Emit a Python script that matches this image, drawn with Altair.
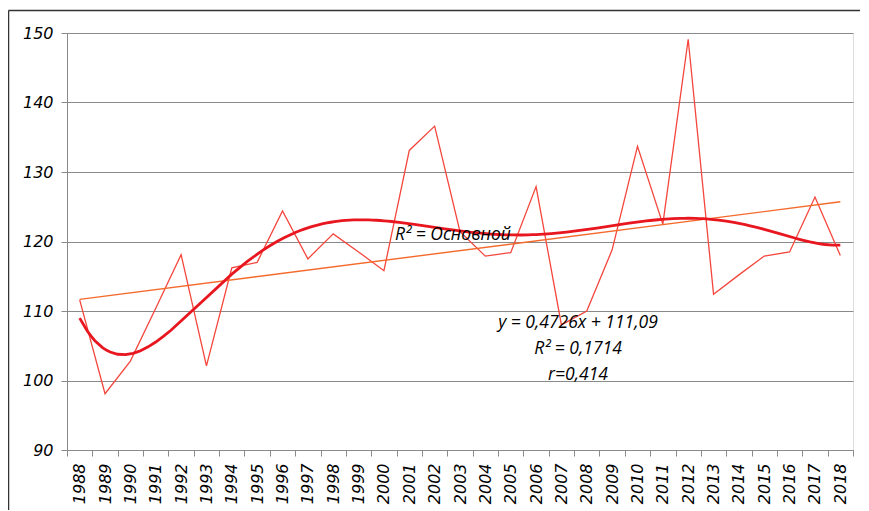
import altair as alt
import pandas as pd

years = list(range(1988, 2019))
values = [111.6, 98.1, 102.8, 110.4, 118.1, 102.1, 116.2, 117.0, 124.4, 117.5,
          121.1, 118.5, 115.8, 133.1, 136.6, 121.4, 117.9, 118.4, 127.9, 108.0,
          110.0, 118.8, 133.7, 122.5, 149.1, 112.4, 115.2, 117.9, 118.5, 126.4, 118.0]
y_ticks = [90, 100, 110, 120, 130, 140, 150]
eq_lines = ["y = 0,4726x + 111,09", "R² = 0,1714", "r=0,414"]
poly_label = "R² = Основной"

df = pd.DataFrame({"idx": list(range(1, len(years) + 1)), "year": years, "v": values})

n = len(years)
tick_vals = [k / 2 for k in range(1, 2 * n + 2)]  # 0.5 .. 31.5
offset = years[0] - 1

FONT = "DejaVu Sans"
ANN_FONT = "Open Sans"
GRID = "#8a8a8a"

x_enc = alt.X("idx:Q",
              scale=alt.Scale(domain=[0.5, n + 0.5], nice=False, zero=False),
              axis=alt.Axis(values=tick_vals, title=None, grid=False,
                            labelExpr=f"datum.value % 1 == 0 ? '' + (datum.value + {offset}) : ''",
                            labelAngle=-90, labelAlign="right", labelBaseline="middle",
                            labelFont=FONT, labelFontStyle="italic", labelFontSize=16,
                            labelColor="#000000", labelPadding=7,
                            tickSize=6, tickColor=GRID,
                            tickOpacity=alt.condition("datum.value % 1 == 0", alt.value(0), alt.value(1)),
                            domainColor=GRID, labelOverlap=False, labelFlush=False,
                            labelBound=False))
y_enc = alt.Y("v:Q",
              scale=alt.Scale(domain=[90, 150], nice=False, zero=False),
              axis=alt.Axis(values=y_ticks, title=None, grid=True, gridColor=GRID,
                            labelFont=FONT, labelFontStyle="italic", labelFontSize=16,
                            labelColor="#000000", labelPadding=8, tickSize=6,
                            tickColor=GRID, domainColor=GRID))

base = alt.Chart(df)

data_line = base.mark_line(color="#f4463c", strokeWidth=1.3).encode(x=x_enc, y=y_enc)

lin = base.transform_regression("idx", "v", method="linear", extent=[1, n]).mark_line(
    color="#f56a2c", strokeWidth=1.4).encode(x=x_enc, y=y_enc)

poly = base.transform_regression("idx", "v", method="poly", order=6, extent=[1, n]).mark_line(
    color="#e8161f", strokeWidth=2.8).encode(x=x_enc, y=y_enc)

text_layers = []
for k, t in enumerate(eq_lines):
    text_layers.append(
        alt.Chart(pd.DataFrame({"t": [t]})).mark_text(
            font=ANN_FONT, fontStyle="italic", fontSize=17.5, align="center",
            baseline="middle", color="#000000").encode(
            text="t:N", x=alt.value(511), y=alt.value(290 + 26 * k)))

poly_text = alt.Chart(pd.DataFrame({"t": [poly_label]})).mark_text(
    font=ANN_FONT, fontStyle="italic", fontSize=17.5, align="center", baseline="middle",
    color="#000000").encode(text="t:N", x=alt.value(386), y=alt.value(202))

frame = alt.Chart(pd.DataFrame({"a": [0]})).mark_rule(color="#333333", strokeWidth=1.5).encode(
    x=alt.value(-58.5), y=alt.value(-22.5), y2=alt.value(480))
frame_top = alt.Chart(pd.DataFrame({"a": [0]})).mark_rule(color="#333333", strokeWidth=1.5).encode(
    x=alt.value(-58.5), x2=alt.value(793), y=alt.value(-22.5))

chart = alt.layer(data_line, lin, poly, poly_text, *text_layers, frame, frame_top).properties(
    width=786, height=417,
    autosize=alt.AutoSizeParams(type="none"),
    padding={"left": 59, "top": 25, "right": 8, "bottom": 60},
).configure_view(stroke=None).configure(background="white")

chart.save("out.html", embed_options={"renderer": "svg", "actions": False})
